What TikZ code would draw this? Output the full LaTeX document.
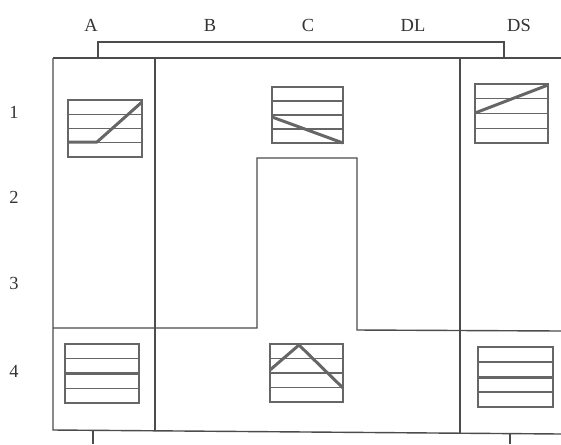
\documentclass[tikz,border=0pt]{standalone}
\usepackage{fontspec}
\setmainfont{Liberation Serif}
\usetikzlibrary{positioning}

\begin{document}
\begin{tikzpicture}[x=0.02cm, y=-0.02cm, font=\fontsize{10.5}{12}\selectfont,
  wall/.style={draw=black!70, line width=0.8pt},
  grid/.style={draw=black!60, line width=0.75pt},
  trend/.style={draw=black!60, line width=1.7pt, line join=round}]
  \useasboundingbox (0,0) rectangle (561,444);

  % labels
  \foreach \name/\x in {A/91, B/210, C/308, DL/413, DS/519}
    \node[text=black!80] (col-\name) at (\x,25) {\name};
  \foreach \r/\y in {1/112, 2/197, 3/283, 4/371}
    \node[text=black!80] (row-\r) at (14,\y) {\r};

  % brackets top and bottom
  \draw[wall] (98,58) |- (504,42) -- (504,58);
  \draw[wall] (93,444) -- (93,430);
  \draw[wall] (510,444) -- (510,433);

  % outline of the cells
  \draw[wall] (53,58) -- (561,58);
  \draw[wall] (53,58) -- (53,430) -- (561,434);
  \draw[wall] (155,58) -- (155,430);
  \draw[wall] (460,58) -- (460,433);
  \draw[wall] (53,328) -- (257,328) -- (257,158) -- (357,158)
    -- (357,330) -- (561,331);

  % small charts
  \foreach \xa/\ya/\xb/\yb in {68/100/142/157, 272/87/343/143, 475/84/548/143,
      65/344/139/403, 270/344/343/402, 478/347/553/407} {
    \draw[grid] (\xa,\ya) rectangle (\xb,\yb);
    \foreach \k in {1,2,3}
      \draw[grid] (\xa,{\ya+\k*(\yb-\ya)/4}) -- (\xb,{\ya+\k*(\yb-\ya)/4});
  }
  \draw[trend] (68,142) -- (97,142) -- (142,102);
  \draw[trend] (272,117) -- (343,143);
  \draw[trend] (475,113) -- (548,85);
  \draw[trend] (65,373) -- (139,373);
  \draw[trend] (270,370) -- (299,345) -- (343,388);
  \draw[trend] (478,377) -- (553,377);
\end{tikzpicture}
\end{document}
